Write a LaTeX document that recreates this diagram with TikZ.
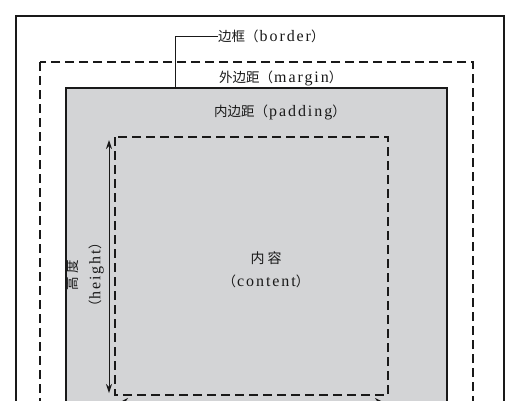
\documentclass[tikz,border=0pt]{standalone}
\usepackage{fontspec}
\setmainfont{Liberation Serif}[LetterSpace=12]
\newfontfamily\cjk{Noto Sans CJK SC}
\usetikzlibrary{arrows.meta}
\definecolor{boxgray}{RGB}{211,212,214}
\definecolor{inkc}{RGB}{25,25,25}
\newcommand{\zh}[1]{{\cjk\fontsize{13.5}{13.5}\selectfont #1}}
\tikzset{
  solidframe/.style={draw=inkc, line width=2.2pt},
  dashframe/.style={draw=inkc, line width=2.6pt, dash pattern=on 9pt off 5pt},
  lbl/.style={inner sep=0pt, text=inkc, font=\fontsize{16}{23}\selectfont},
  leader/.style={draw=inkc, line width=1pt},
  dimarrow/.style={draw=inkc, line width=1pt, {Stealth[length=9pt,width=6pt]}-{Stealth[length=9pt,width=6pt]}},
  widtharrow/.style={draw=inkc, line width=1pt, {Stealth[length=10pt,width=10pt]}-{Stealth[length=10pt,width=10pt]}}
}
\begin{document}
\begin{tikzpicture}[x=1pt,y=-1pt]
\useasboundingbox (0,0) rectangle (521,400);
\fill[white] (0,0) rectangle (521,400);
\clip (0,0) rectangle (521,400);
% outer frame
\draw[solidframe] (16,16) rectangle (504,440);
% margin (dashed)
\draw[dashframe] (40,62) rectangle (473,430);
% border box with padding fill
\draw[solidframe, fill=boxgray, line width=2.6pt] (66,88) rectangle (447,420);
% content (dashed)
\draw[dashframe] (115,137) rectangle (388,395);
% labels
\node[lbl, anchor=west] (borderlbl) at (218,36) {\zh{边框（}\hspace{1pt}border\zh{）}};
\coordinate (bt) at (175,88);
\draw[leader] (bt) |- (borderlbl.west);
\node[lbl, anchor=west] (marginlbl) at (219,78) {\zh{外边距（}\hspace{1pt}margin\zh{）}};
\node[lbl, anchor=west] (paddinglbl) at (214,112) {\zh{内边距（}\hspace{1pt}padding\zh{）}};
\node[lbl, align=center] (contentlbl) at (266,270) {{\cjk\fontsize{14}{14}\selectfont 内\hspace{3pt}容}\\\zh{（}\hspace{1pt}content\zh{）}};
\node[lbl, align=center, rotate=90] (heightlbl) at (85,275) {\zh{高\hspace{4pt}度}\\\zh{（}\hspace{1pt}height\zh{）}};
% height dimension arrow
\coordinate (ht) at (109,140);
\coordinate (hb) at (109,393);
\draw[dimarrow] (ht) -- (hb);
% width dimension arrow (mostly below the visible area)
\coordinate (wl) at (118,403);
\coordinate (wr) at (385,403);
\draw[widtharrow] (wl) -- (wr);
\end{tikzpicture}
\end{document}
